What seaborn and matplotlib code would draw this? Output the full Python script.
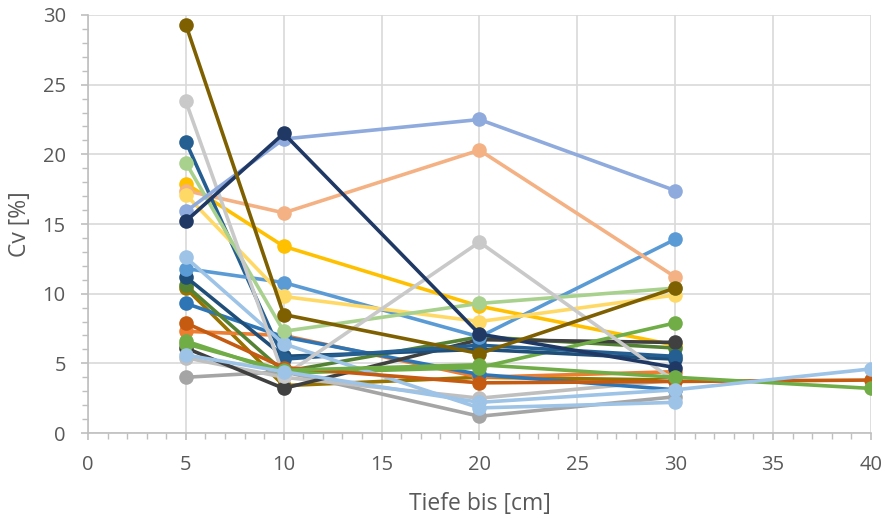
#!/usr/bin/env python3
"""Cv over depth, one line per measurement series (Excel-style line chart)."""

import numpy as np
import pandas as pd
import matplotlib
matplotlib.use("Agg")
import matplotlib.pyplot as plt
from matplotlib.ticker import MultipleLocator
import seaborn as sns

# depth steps [cm]
DEPTH = [5, 10, 20, 30]
DEPTH_40 = [5, 10, 20, 30, 40]

# Cv [%] per series
S01 = [10.4, 3.4, 4.0, 3.8]
S02 = [6.1, 3.2, 6.7, 6.5]
S03 = [4.0, 4.4, 1.2, 2.6]
S04 = [5.4, 4.0, 2.5, 3.8]
S05 = [7.3, 7.0, 4.0, 4.4]
S06 = [9.3, 6.9, 4.2, 3.1]
S07 = [10.6, 4.4, 6.9, 6.1]
S08 = [6.6, 4.3, 4.7, 7.9]
S09 = [11.2, 5.5, 6.0, 5.3]
S10 = [20.9, 5.3, 6.3, 5.5]
S11 = [11.8, 10.8, 6.9, 13.9]
S12 = [12.6, 6.4, 1.8, 2.2]
S13 = [17.4, 15.8, 20.3, 11.2]
S14 = [17.1, 9.8, 8.0, 9.9]
S15 = [17.9, 13.4, 9.1, 6.3]
S16 = [19.4, 7.3, 9.3, 10.4]
S17 = [23.8, 4.1, 13.7, 3.7]
S18 = [15.9, 21.1, 22.5, 17.4]
S19 = [15.2, 21.5, 7.1, 4.7]
S20 = [29.3, 8.5, 5.7, 10.4]
S21 = [7.9, 4.7, 3.6, 3.7, 3.8]
S22 = [6.4, 4.5, 4.9, 4.0, 3.2]
S23 = [5.6, 4.4, 2.2, 3.1, 4.6]

# drawing order: later entries end up on top
SERIES = [
    ("S15", DEPTH, S15, "#FFC000"),
    ("S01", DEPTH, S01, "#997300"),
    ("S03", DEPTH, S03, "#A5A5A5"),
    ("S04", DEPTH, S04, "#BFBFBF"),
    ("S05", DEPTH, S05, "#ED7D31"),
    ("S06", DEPTH, S06, "#2E75B6"),
    ("S07", DEPTH, S07, "#548235"),
    ("S02", DEPTH, S02, "#404040"),
    ("S08", DEPTH, S08, "#70AD47"),
    ("S09", DEPTH, S09, "#1F4E79"),
    ("S10", DEPTH, S10, "#255E91"),
    ("S11", DEPTH, S11, "#5B9BD5"),
    ("S12", DEPTH, S12, "#9DC3E6"),
    ("S13", DEPTH, S13, "#F4B183"),
    ("S14", DEPTH, S14, "#FFD966"),
    ("S16", DEPTH, S16, "#A9D18E"),
    ("S17", DEPTH, S17, "#C9C9C9"),
    ("S18", DEPTH, S18, "#8FAADC"),
    ("S19", DEPTH, S19, "#1F3864"),
    ("S20", DEPTH, S20, "#7F6000"),
    ("S21", DEPTH_40, S21, "#C55A11"),
    ("S22", DEPTH_40, S22, "#70AD47"),
    ("S23", DEPTH_40, S23, "#9DC3E6"),
]

rows = []
for name, xs, ys, _ in SERIES:
    for x, y in zip(xs, ys):
        rows.append({"series": name, "depth": x, "cv": y})
df = pd.DataFrame(rows)
palette = {name: col for name, _, _, col in SERIES}

sns.set_theme(style="white")
plt.rcParams["font.family"] = ["Open Sans", "DejaVu Sans"]

fig = plt.figure(figsize=(8.86, 5.19), dpi=100)
ax = fig.add_axes([0.0993, 0.1657, 0.8837, 0.8054])

sns.lineplot(data=df, x="depth", y="cv", hue="series", palette=palette,
             hue_order=[s[0] for s in SERIES], marker="o", markersize=10.5,
             markeredgewidth=0, linewidth=2.6, sort=False, legend=False,
             estimator=None, ax=ax)

ax.set_xlim(0, 40)
ax.set_ylim(0, 30)
ax.xaxis.set_major_locator(MultipleLocator(5))
ax.xaxis.set_minor_locator(MultipleLocator(1))
ax.yaxis.set_major_locator(MultipleLocator(5))
ax.yaxis.set_minor_locator(MultipleLocator(1))
ax.grid(True, which="major", color="#D9D9D9", linewidth=1.2)
ax.set_axisbelow(True)

for side in ["top", "right"]:
    ax.spines[side].set_visible(False)
for side in ["left", "bottom"]:
    ax.spines[side].set_color("#BFBFBF")
    ax.spines[side].set_linewidth(1.2)

ax.tick_params(which="both", direction="out", color="#BFBFBF",
               labelcolor="#595959", labelsize=14.5)
ax.tick_params(which="major", length=5, width=1.2, bottom=True, left=True)
ax.tick_params(which="minor", length=4, width=1.0, bottom=True, left=True)
ax.tick_params(axis="x", which="major", pad=11)
ax.tick_params(axis="y", which="major", pad=11)

ax.set_xlabel("Tiefe bis [cm]", fontsize=16.5, color="#595959", labelpad=12)
ax.set_ylabel("Cv [%]", fontsize=16.5, color="#595959", labelpad=8)

fig.savefig("out.png", dpi=100)
plt.close(fig)
